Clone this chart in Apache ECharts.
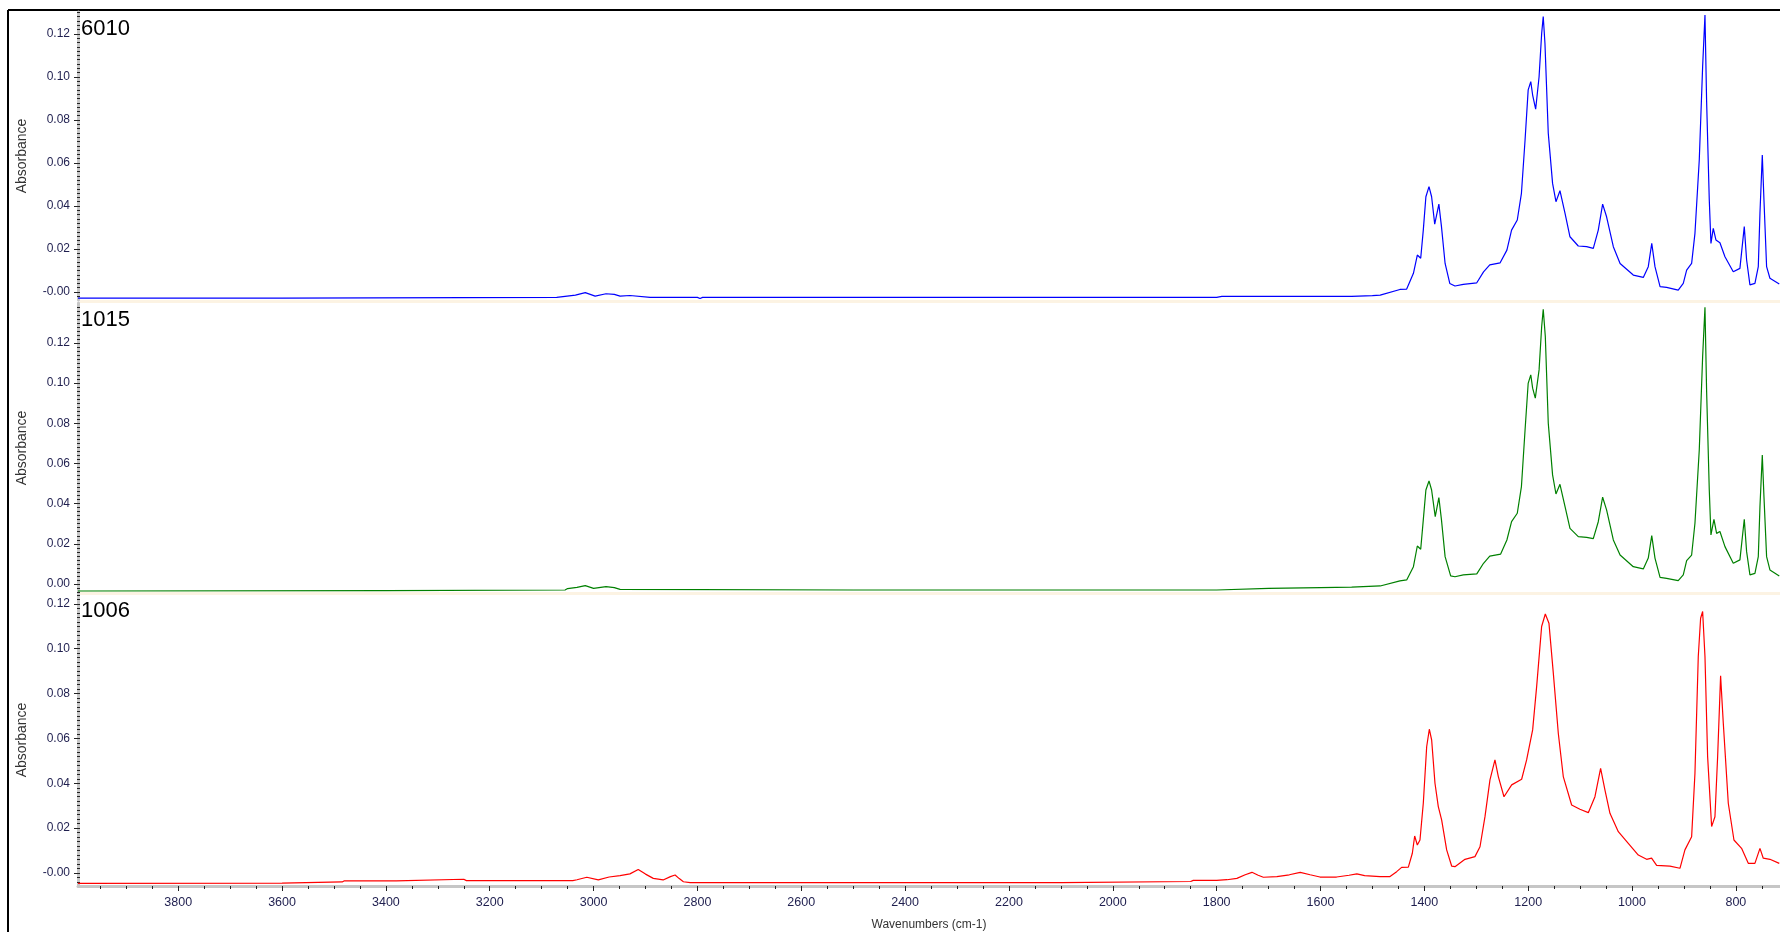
<!DOCTYPE html>
<html>
<head>
<meta charset="utf-8">
<title>FTIR spectra</title>
<script src="https://cdn.jsdelivr.net/npm/echarts@6/dist/echarts.min.js"></script>
<style>
html, body { margin: 0; padding: 0; background: #fff; }
#chart { width: 1780px; height: 932px; }
</style>
</head>
<body>
<div id="chart"></div>
<script>
// sample names, top to bottom
const names = ['6010', '1015', '1006']
const colors = ['#0000ff', '#008000', '#ff0000']

// [wavenumber cm-1, absorbance]
const s6010 = [
  [3993, -0.0028], [3600, -0.0028], [3071, -0.0025], [3068, -0.0019], [3035, -0.0014],
  [3016, -0.0003], [2997, -0.0019], [2976, -0.0008], [2960, -0.0011], [2949, -0.0019],
  [2930, -0.0016], [2891, -0.0025], [2800, -0.0025], [2795, -0.0030], [2790, -0.0025],
  [1800, -0.0025], [1790, -0.0020], [1540, -0.0020], [1500, -0.0017],
  [1485, -0.0014], [1447, 0.0012], [1434, 0.0014], [1421, 0.0087], [1413.5, 0.0172],
  [1407, 0.0157], [1402, 0.0288], [1397, 0.0443], [1391, 0.0490], [1386, 0.0443],
  [1380, 0.0316], [1372, 0.0409], [1367, 0.0304], [1360, 0.0133], [1351, 0.0040],
  [1341, 0.0028], [1325, 0.0036], [1299, 0.0043], [1286, 0.0094], [1274, 0.0126],
  [1254, 0.0136], [1241, 0.0195], [1232, 0.0288], [1221, 0.0335], [1213, 0.0459],
  [1206, 0.0707], [1200, 0.0940], [1195, 0.0978], [1191.4, 0.0916], [1185.6, 0.0850],
  [1179, 0.1001], [1174, 0.1203], [1171, 0.1281], [1167.7, 0.1157], [1161.3, 0.0738],
  [1153, 0.0505], [1146.5, 0.0420], [1138.8, 0.0471], [1129, 0.0366], [1119.5, 0.0257],
  [1103.5, 0.0214], [1087.4, 0.0211], [1074.6, 0.0203], [1065, 0.0288], [1056.6, 0.0409],
  [1049, 0.0350], [1036, 0.0211], [1023, 0.0133], [997.6, 0.0079], [978.3, 0.0068],
  [968.7, 0.0118], [962, 0.0226], [955.8, 0.0118], [946, 0.0025], [933.4, 0.0022],
  [911, 0.0009], [901.3, 0.0040], [894.8, 0.0102], [885.2, 0.0133], [878.8, 0.0273],
  [870.5, 0.0614], [864, 0.1048], [859.5, 0.1288], [856.4, 0.0893], [851.2, 0.0428],
  [848, 0.0226], [843.5, 0.0296], [838.4, 0.0242], [830.7, 0.0229], [821, 0.0164],
  [805, 0.0094], [792.2, 0.0110], [783.8, 0.0304], [779.3, 0.0149], [772.9, 0.0033],
  [763.3, 0.0040], [756.8, 0.0118], [753.6, 0.0366], [749.1, 0.0637], [745.9, 0.0428],
  [740.8, 0.0118], [734.4, 0.0064], [716.4, 0.0037]
]

const s1015 = [
  [3993, -0.0035], [3400, -0.0033], [3055, -0.0030], [3050, -0.0023], [3032, -0.0017],
  [3016, -0.0008], [3000, -0.0022], [2976, -0.0013], [2960, -0.0018], [2949, -0.0027],
  [2500, -0.0030], [1800, -0.0030], [1700, -0.0022], [1600, -0.0018], [1540, -0.0016],
  [1485, -0.0010], [1447, 0.0015], [1434, 0.0020], [1421, 0.0086], [1413.5, 0.0189],
  [1407, 0.0173], [1402, 0.0319], [1397, 0.0468], [1391, 0.0513], [1386, 0.0468],
  [1379, 0.0335], [1372, 0.0430], [1367, 0.0319], [1360, 0.0136], [1349.3, 0.0040],
  [1341, 0.0036], [1325, 0.0045], [1299, 0.0050], [1286, 0.0103], [1274, 0.0139],
  [1253, 0.0149], [1241, 0.0219], [1232, 0.0310], [1221, 0.0352], [1213, 0.0485],
  [1206, 0.0767], [1200, 0.0999], [1195, 0.1041], [1191.4, 0.0975], [1186.3, 0.0925],
  [1179, 0.1066], [1174, 0.1282], [1171, 0.1368], [1167, 0.1232], [1161.3, 0.0800],
  [1153, 0.0543], [1146.5, 0.0448], [1138.8, 0.0496], [1129, 0.0385], [1119.5, 0.0277],
  [1103.5, 0.0236], [1087.4, 0.0232], [1074.6, 0.0226], [1065, 0.0310], [1056.6, 0.0432],
  [1049, 0.0369], [1036, 0.0219], [1023, 0.0144], [997.6, 0.0086], [978.3, 0.0075],
  [968.7, 0.0129], [962, 0.0241], [955.8, 0.0129], [946, 0.0033], [933.4, 0.0028],
  [911, 0.0017], [901.3, 0.0045], [894.8, 0.0116], [885.2, 0.0144], [878.8, 0.0302],
  [870.5, 0.0667], [864, 0.1132], [859.5, 0.1378], [856.4, 0.0966], [851.2, 0.0468],
  [848, 0.0244], [842.2, 0.0322], [837.1, 0.0252], [830.7, 0.0261], [821, 0.0186],
  [805, 0.0103], [792.2, 0.0120], [783.8, 0.0322], [779.3, 0.0161], [772.9, 0.0045],
  [763.3, 0.0053], [756.8, 0.0136], [753.6, 0.0385], [749.1, 0.0642], [745.9, 0.0435],
  [740.8, 0.0136], [734.4, 0.0070], [716.4, 0.0040]
]

const s1006 = [
  [3993, -0.0046], [3600, -0.0045], [3598, -0.0040], [3484, -0.0040], [3480, -0.0035],
  [3380, -0.0035], [3378, -0.0028], [3250, -0.0028], [3245, -0.0034], [3040, -0.0034],
  [3032, -0.0030], [3013, -0.0019], [2991, -0.0031], [2970, -0.0018], [2949, -0.0012],
  [2930, -0.0004], [2914, 0.0016], [2900, -0.0005], [2885, -0.0024], [2866, -0.0031],
  [2852, -0.0016], [2843, -0.0009], [2835, -0.0025], [2827, -0.0039], [2814, -0.0043],
  [2100, -0.0043], [2097, -0.0038], [1850, -0.0038], [1845, -0.0033], [1800, -0.0033],
  [1780, -0.0030], [1761, -0.0024], [1745, -0.0008], [1732, 0.0003], [1720, -0.0010],
  [1710, -0.0019], [1684, -0.0016], [1660, -0.0008], [1639, 0.0003], [1620, -0.0008],
  [1601, -0.0018], [1569, -0.0018], [1545, -0.0010], [1530, -0.0004], [1515, -0.0012],
  [1485.4, -0.0016], [1466.1, -0.0016], [1453.3, 0.0006], [1443.7, 0.0025], [1430.8, 0.0026],
  [1423.1, 0.0088], [1418.6, 0.0165], [1413.5, 0.0125], [1408.4, 0.0147], [1402, 0.0311],
  [1395.5, 0.0563], [1390.4, 0.0641], [1385.9, 0.0593], [1379.5, 0.0400], [1373.1, 0.0296],
  [1366.6, 0.0236], [1357, 0.0103], [1347.4, 0.0031], [1341, 0.0028], [1321.7, 0.0061],
  [1302.5, 0.0073], [1292.8, 0.0117], [1283.2, 0.0251], [1273.6, 0.0415], [1264, 0.0504],
  [1257.5, 0.0430], [1246.6, 0.0340], [1231.8, 0.0393], [1212.6, 0.0418], [1203, 0.0504],
  [1191.4, 0.0638], [1183.7, 0.0831], [1174.1, 0.1099], [1167, 0.1155], [1160, 0.1114],
  [1151.6, 0.0891], [1142, 0.0623], [1132.4, 0.0430], [1116.3, 0.0303], [1100.3, 0.0284],
  [1084.2, 0.0269], [1071.4, 0.0340], [1060.5, 0.0467], [1052.1, 0.0370], [1042.5, 0.0266],
  [1026.4, 0.0184], [1007.2, 0.0132], [987.9, 0.0080], [971.9, 0.0061], [962.3, 0.0066],
  [952.6, 0.0034], [927, 0.0031], [907.7, 0.0021], [898.1, 0.0103], [885.2, 0.0162],
  [878.8, 0.0445], [872.4, 0.0965], [867.9, 0.1136], [864, 0.1166], [859.5, 0.0965],
  [854.4, 0.0519], [846.7, 0.0207], [840.3, 0.0251], [835.1, 0.0519], [829.4, 0.0879],
  [824.2, 0.0668], [814.6, 0.0311], [803.7, 0.0147], [789, 0.0110], [776.1, 0.0043],
  [763.3, 0.0043], [753.6, 0.0110], [747.2, 0.0066], [734.4, 0.0061], [716.4, 0.0043]
]
const spectra = [s6010, s1015, s1006]

// axis labels
const xTickLabels = [3800, 3600, 3400, 3200, 3000, 2800, 2600, 2400, 2200, 2000, 1800, 1600, 1400, 1200, 1000, 800]
const yTickLabels = [0, 0.02, 0.04, 0.06, 0.08, 0.10, 0.12]
const zeroLabels = ['-0.00', '0.00', '-0.00']
const xMin = 715
const xMax = 3993
const yMin = [-0.0037, -0.0045, -0.0058]
const yMax = [0.1302, 0.1399, 0.1244]

const xMinor = []
for (let w = 750; w <= 3950; w += 50) xMinor.push(w)

const grids = [
  { left: 78, right: 0, top: 12, height: 288 },
  { left: 78, right: 0, top: 303, height: 290 },
  { left: 78, right: 0, top: 594, height: 292 }
]
const axisGray = '#c6c6c6'
const labelColor = '#1f1f4f'
const font = 'Arial, "Liberation Sans", sans-serif'

const xAxis = []
const yAxis = []
const series = []
const titles = []
grids.forEach((g, i) => {
  xAxis.push({
    type: 'value', gridIndex: i, min: xMin, max: xMax, inverse: true,
    show: i === 2, position: 'bottom',
    axisLine: { show: true, onZero: false, lineStyle: { color: axisGray, width: 3 } },
    axisTick: { show: true, customValues: xTickLabels, length: 5, lineStyle: { color: '#222' } },
    axisLabel: {
      show: true, customValues: xTickLabels, margin: 10,
      fontSize: 12.5, color: labelColor, fontFamily: font,
      formatter: v => String(v)
    },
    splitLine: { show: false },
    name: i === 2 ? 'Wavenumbers (cm-1)' : '',
    nameLocation: 'middle', nameGap: 33,
    nameTextStyle: { fontSize: 12, color: '#333', fontFamily: font }
  })
  yAxis.push({
    type: 'value', gridIndex: i, min: yMin[i], max: yMax[i], position: 'left',
    axisLine: { show: true, onZero: false, lineStyle: { color: axisGray, width: 3 } },
    axisTick: { show: true, customValues: yTickLabels, length: 4, lineStyle: { color: '#222' } },
    axisLabel: {
      customValues: yTickLabels, margin: 8, fontSize: 12, color: labelColor, fontFamily: font,
      formatter: v => (Math.abs(v) < 1e-9 ? zeroLabels[i] : v.toFixed(2))
    },
    splitLine: { show: false },
    name: 'Absorbance', nameLocation: 'middle', nameRotate: 90, nameGap: 49,
    nameTextStyle: { fontSize: 14, color: '#333', fontFamily: font }
  })
  titles.push({
    type: 'text', left: 81, top: g.top + 6,
    style: { text: names[i], fontSize: 22, fill: '#000', font: '22px ' + font }
  })
  series.push({
    name: names[i], type: 'line', xAxisIndex: i, yAxisIndex: i,
    data: spectra[i], showSymbol: false, symbol: 'none', clip: true,
    lineStyle: { color: colors[i], width: 1.2 }, silent: true
  })
})

// minor ticks, drawn on separate axes
xAxis.push({
  type: 'value', gridIndex: 2, min: xMin, max: xMax, inverse: true, position: 'bottom',
  axisLine: { show: false, onZero: false },
  axisTick: { show: true, customValues: xMinor, length: 3, lineStyle: { color: '#222' } },
  axisLabel: { show: false }, splitLine: { show: false }
})
grids.forEach((g, i) => {
  const minor = []
  for (let k = -3; k <= 70; k++) {
    const v = k * 0.002
    if (v >= yMin[i] && v <= yMax[i]) minor.push(v)
  }
  yAxis.push({
    type: 'value', gridIndex: i, min: yMin[i], max: yMax[i], position: 'left', offset: 1,
    axisLine: { show: false, onZero: false },
    axisTick: { show: true, inside: true, customValues: minor, length: 3, lineStyle: { color: '#222' } },
    axisLabel: { show: false }, splitLine: { show: false }
  })
})

const chart = echarts.init(document.getElementById('chart'))
chart.setOption({
  animation: false,
  backgroundColor: '#fff',
  grid: grids,
  xAxis,
  yAxis,
  series,
  graphic: [
    { type: 'line', shape: { x1: 8, y1: 10, x2: 1780, y2: 10 }, style: { stroke: '#000', lineWidth: 2 } },
    { type: 'line', shape: { x1: 8, y1: 10, x2: 8, y2: 932 }, style: { stroke: '#000', lineWidth: 2 } },
    { type: 'line', shape: { x1: 80, y1: 301.5, x2: 1780, y2: 301.5 }, style: { stroke: '#fcf3e3', lineWidth: 3 } },
    { type: 'line', shape: { x1: 80, y1: 593.5, x2: 1780, y2: 593.5 }, style: { stroke: '#fcf3e3', lineWidth: 3 } }
  ].concat(titles)
})
window.addEventListener('resize', () => {
  chart.resize()
})
</script>
</body>
</html>
